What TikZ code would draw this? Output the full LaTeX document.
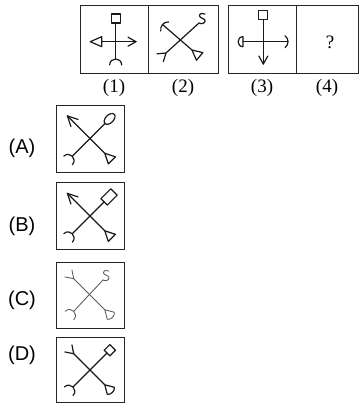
\documentclass[tikz,border=0pt]{standalone}
\usepackage{fontspec}
\setmainfont{Liberation Serif}
\newfontfamily\arialf{Liberation Sans}
\tikzset{
  endsq/.pic={\draw (0,-4.5) rectangle (9,4.5);},
  endtriout/.pic={\draw (0,-5) -- (11.5,0) -- (0,5) -- cycle;},
  endtriin/.pic={\draw (0,0) -- (10,-5) -- (10,5) -- cycle;},
  endtrir/.pic={\draw (0,0) -- (8.5,-5) .. controls (11.5,-3) and (11.5,3) .. (8.5,5) -- cycle;},
  endchev/.pic={\draw (-8,-4.5) -- (0,0) -- (-8,4.5);},
  endchevbig/.pic={\draw (-10,-5) -- (0,0) -- (-10,5);},
  endfork/.pic={\draw (7.5,-5) -- (0,0) -- (7.5,5);},
  endcapout/.pic={\draw (-3,-6) .. controls (1,-3) and (1,3) .. (-3,6);},
  endcapin/.pic={\draw (6,-6) .. controls (-2,-6) and (-2,6) .. (6,6);},
  endhalf/.pic={\draw (0,-5) -- (0,5) .. controls (6.5,5) and (6.5,-5) .. (0,-5) -- cycle;},
  endell/.pic={\draw (6.5,0) ellipse [x radius=6.5, y radius=4];},
  endrect/.pic={\draw (0,-4.5) rectangle (14,4.5);},
  endsmall/.pic={\draw (0,-4) rectangle (8,4);},
  endS/.pic={\draw (0,0) .. controls (2,1.5) and (6.5,0.5) .. (6,-2.5) .. controls (5.5,-5) and (1,-4.5) .. (0.5,-7) .. controls (0,-9.5) and (4,-10.5) .. (6,-9);},
}
\begin{document}
\begin{tikzpicture}[x=1pt,y=-1pt,
  fig/.style={line width=1.2pt,line join=round,line cap=round,draw=black!90},
  figlight/.style={line width=0.85pt,line join=round,line cap=round,draw=black!65},
  frame/.style={line width=0.9pt,draw=black!85},
  toplbl/.style={font=\fontsize{19}{19}\selectfont},
  optlbl/.style={font=\arialf\fontsize{20}{20}\selectfont}]
\useasboundingbox (0,0) rectangle (359,404);
% top frames
\draw[frame] (80,5) rectangle (218,73);
\draw[frame] (148,5) -- (148,73);
\draw[frame] (228,5) rectangle (358,73);
\draw[frame] (296,5) -- (296,73);
% cell 1
\begin{scope}[fig]
\draw (115.7,23) -- (115.7,59);
\draw (101.7,41.7) -- (136,41.7);
\pic[rotate=90] at (115.7,23) {endsq};
\pic[rotate=180] at (101.7,41.7) {endtriout};
\pic at (136,41.7) {endchev};
\pic[rotate=270] at (115.7,59) {endcapin};
\end{scope}
% cell 2
\begin{scope}[fig]
\draw (162.5,24.5) -- (192,50);
\draw (199,23) -- (166,53);
\pic[rotate=139] at (162.5,24.5) {endcapout};
\pic at (199,23) {endS};
\pic[rotate=219] at (166,53) {endfork};
\pic[rotate=-40] at (192,50) {endtriin};
\end{scope}
% cell 3
\begin{scope}[fig]
\draw (263.3,19.5) -- (263.3,64);
\draw (243,41.7) -- (288,41.7);
\pic[rotate=90] at (263.3,19.5) {endsq};
\pic[rotate=270] at (263.3,64) {endchev};
\pic[rotate=180] at (243,41.7) {endhalf};
\pic at (288,41.7) {endcapout};
\end{scope}
\node[toplbl] (q) at (330,42) {?};
\node[toplbl] (l1) at (114,87.5) {(1)};
\node[toplbl] (l2) at (183,87.5) {(2)};
\node[toplbl] (l3) at (262,87.5) {(3)};
\node[toplbl] (l4) at (327,87.5) {(4)};
% option frames
\draw[frame] (56,105) rectangle (124,172);
\draw[frame] (56,182) rectangle (124,249);
\draw[frame] (56,262) rectangle (124,328);
\draw[frame] (56,337) rectangle (124,402.5);
\node[optlbl] (la) at (22,148) {(A)};
\node[optlbl] (lb) at (22,226) {(B)};
\node[optlbl] (lc) at (22,300) {(C)};
\node[optlbl] (ld) at (22,355) {(D)};
% option A
\begin{scope}[shift={(90,138.5)},fig]
\draw (-22.6,-22.6) -- (14.8,14.8);
\draw (15,-15) -- (-17.7,17.7);
\pic[rotate=135] at (-22.6,-22.6) {endchevbig};
\pic[rotate=-45] at (14.8,14.8) {endtriin};
\pic[rotate=45] at (15,-15) {endell};
\pic[rotate=225] at (-17.7,17.7) {endcapin};
\end{scope}
% option B
\begin{scope}[shift={(90,216)},fig]
\draw (-22.6,-22.6) -- (14.8,14.8);
\draw (14.1,-14.1) -- (-17.7,17.7);
\pic[rotate=135] at (-22.6,-22.6) {endchevbig};
\pic[rotate=-45] at (14.8,14.8) {endtriin};
\pic[rotate=45] at (14.1,-14.1) {endrect};
\pic[rotate=225] at (-17.7,17.7) {endcapin};
\end{scope}
% option C
\begin{scope}[shift={(90,295)},figlight]
\draw (-16.3,-16.3) -- (14.8,14.8);
\draw (13,-15) -- (-16.3,16.3);
\pic[rotate=135] at (-16.3,-16.3) {endfork};
\pic at (13,-15) {endS};
\pic[rotate=225] at (-16.3,16.3) {endcapin};
\pic[rotate=-45] at (14.8,14.8) {endtrir};
\end{scope}
% option D
\begin{scope}[shift={(90,370)},fig]
\draw (-16.3,-16.3) -- (14.8,14.8);
\draw (17,-17) -- (-17,17);
\pic[rotate=135] at (-16.3,-16.3) {endfork};
\pic[rotate=45] at (17,-17) {endsmall};
\pic[rotate=225] at (-17,17) {endcapin};
\pic[rotate=-45] at (14.8,14.8) {endtrir};
\end{scope}
\end{tikzpicture}
\end{document}
